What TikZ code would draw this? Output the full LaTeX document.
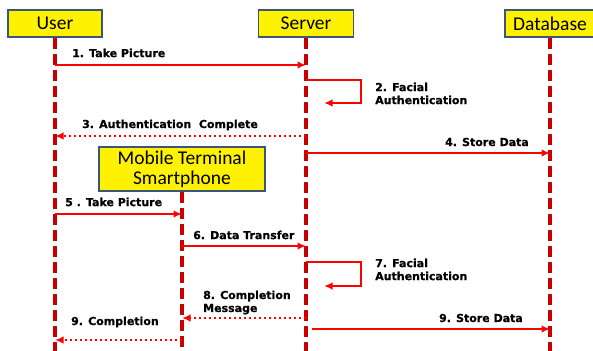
\documentclass[tikz,border=0pt]{standalone}
\usepackage{fontspec}
\setmainfont{Carlito}
\newfontfamily\msgfont[BoldFeatures={FakeBold=0.6}]{DejaVu Sans}
\usepackage{tikz}
\usetikzlibrary{arrows.meta}

\definecolor{lifered}{RGB}{200,0,0}
\definecolor{msgred}{RGB}{255,0,0}
\definecolor{boxline}{RGB}{60,85,120}

\begin{document}
\begin{tikzpicture}[x=1pt,y=-1pt,
		actor/.style={draw=boxline, line width=1.4pt, fill=yellow, inner sep=0pt, minimum height=27pt,
			font=\fontsize{19.5}{20}\selectfont},
		life/.style={lifered, line width=3.2pt, dash pattern=on 11pt off 5pt},
		msg/.style={msgred, line width=2.4pt, -{Latex[length=8.5pt,width=7.5pt]}},
		reply/.style={msg, dash pattern=on 2.5pt off 2.5pt},
		lbl/.style={inner sep=0pt, align=left, font=\msgfont\bfseries\fontsize{11}{13}\selectfont}]
			\useasboundingbox (0,0) rectangle (593,350);
			
			% message heights
			\coordinate (bottom) at (0,352);
			\coordinate (m1) at (0,65);
			\coordinate (m2) at (0,80);
			\coordinate (m3) at (0,136);
			\coordinate (m4) at (0,153);
			\coordinate (m5) at (0,214);
			\coordinate (m6) at (0,246);
			\coordinate (m7) at (0,262);
			\coordinate (m8) at (0,318);
			\coordinate (m9) at (0,329);
			\coordinate (m10) at (0,340);
			
			% participants
			\node[actor, minimum width=94pt] (user) at (55,23.5) {User};
			\node[actor, minimum width=95pt] (server) at (306,23.5) {Server};
			\node[actor, minimum width=90pt] (db) at (550,23.5) {Database};
			\node[actor, minimum width=166pt, minimum height=44pt, align=center] (mobile) at (182,169) {Mobile Terminal\\Smartphone};
			
			% lifelines
			\draw[life] (user.south) -- (user |- bottom);
			\draw[life] (server.south) -- (server |- bottom);
			\draw[life] (db.south) -- (db |- bottom);
			\draw[life] (mobile.south) -- (mobile |- bottom);
			
			% first round, through the server
			\draw[msg] (user |- m1) -- (server |- m1);
			\node[lbl, anchor=west] (l1) at (72,53) {1. Take Picture};
			
			\draw[msg] (server |- m2) -- ++(55,0) -- ++(0,23) -- ++(-37,0);
			\node[lbl, anchor=west] (l2) at (375,93.5) {2. Facial\\Authentication};
			
			\draw[reply] (server |- m3) -- (user |- m3);
			\node[lbl, anchor=west] (l3) at (82,125) {3. Authentication\ \ Complete};
			
			\draw[msg] (server |- m4) -- (db |- m4);
			\node[lbl, anchor=east] (l4) at (529,142) {4. Store Data};
			
			% second round, through the smartphone
			\draw[msg] (user |- m5) -- (mobile |- m5);
			\node[lbl, anchor=west] (l5) at (65,202) {5 . Take Picture};
			
			\draw[msg] (mobile |- m6) -- (server |- m6);
			\node[lbl, anchor=west] (l6) at (193,235) {6. Data Transfer};
			
			\draw[msg] (server |- m7) -- ++(55,0) -- ++(0,24) -- ++(-37,0);
			\node[lbl, anchor=west] (l7) at (375,269.5) {7. Facial\\Authentication};
			
			\draw[reply] (server |- m8) -- (mobile |- m8);
			\node[lbl, anchor=west] (l8) at (203,302.5) {8. Completion\\Message};
			
			\draw[msg] ([xshift=6pt]server |- m9) -- (db |- m9);
			\node[lbl, anchor=east] (l9) at (523,318) {9. Store Data};
			
			\draw[reply] (mobile |- m10) -- (user |- m10);
			\node[lbl, anchor=west] (l10) at (71,322) {9. Completion};
		\end{tikzpicture}
\end{document}
